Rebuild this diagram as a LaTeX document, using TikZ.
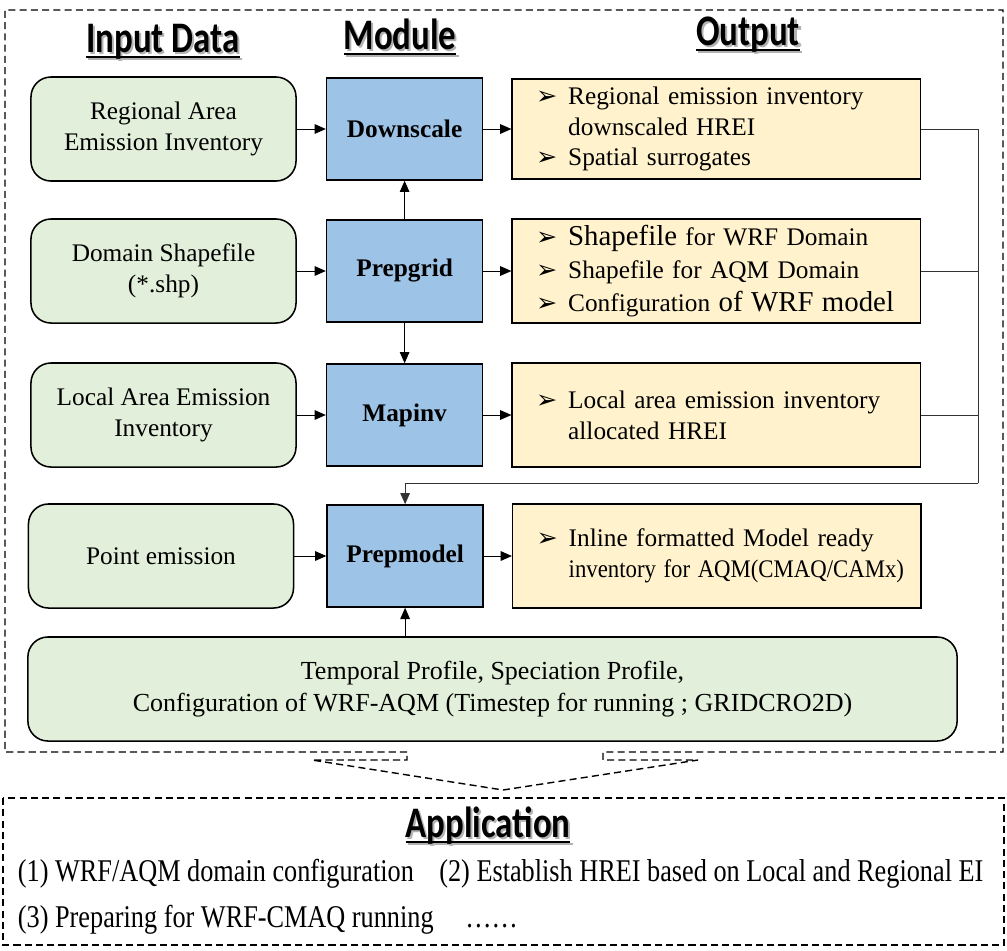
\documentclass[tikz,border=0pt]{standalone}
\usepackage{fontspec}
\usepackage{xcolor}
\usepackage{graphicx}
\usetikzlibrary{arrows.meta,positioning}
\setmainfont{Liberation Serif}
\newfontfamily\hdrfont[FakeStretch=0.8]{Carlito}
\newfontfamily\symfont{DejaVu Sans}
\newfontfamily\appfont[FakeStretch=0.83]{Liberation Serif}
\definecolor{ingreen}{RGB}{226,239,218}
\definecolor{modblue}{RGB}{157,195,230}
\definecolor{outyellow}{RGB}{255,242,204}
\newcommand{\hdul}[1]{\setbox0=\hbox{#1}\rlap{\rule[-4.5pt]{\wd0}{1.4pt}}\box0}
\newcommand{\hdr}[1]{\rlap{\hspace{1.5pt}\raisebox{-1.5pt}{\color{black!30}\hdul{#1}}}\hdul{#1}}
\newcommand{\itm}{\makebox[0.8cm][l]{\symfont\fontsize{18}{18}\selectfont ➢}}
\newcommand{\cnt}{\hspace*{0.8cm}}
\newcommand{\bigtxt}{\fontsize{20.5}{22}\selectfont}

\begin{document}
\begin{tikzpicture}[x=0.025cm,y=-0.025cm,
   font=\fontsize{18}{22}\selectfont,
   inbox/.style={draw,line width=1.1pt,rounded corners=0.5cm,fill=ingreen,
                 minimum width=6.625cm,minimum height=2.6cm,align=center},
   modbox/.style={draw,line width=1.1pt,fill=modblue,minimum width=3.9cm,
                  minimum height=2.55cm,font=\fontsize{18}{22}\selectfont\bfseries},
   outbox/.style={draw,line width=1.1pt,fill=outyellow,text width=9cm,inner xsep=0.6cm,
                  minimum height=2.6cm,align=left},
   hd/.style={anchor=base,font=\hdrfont\bfseries\fontsize{31}{33}\selectfont},
   flow/.style={-{Triangle[length=2.8mm,width=2.4mm]},line width=0.7pt},
   bus/.style={draw=black!80,line width=0.6pt},
   outline/.style={draw,line width=1pt,dash pattern=on 5pt off 3pt}]
  \useasboundingbox (0,0) rectangle (1007,950);

  % dashed frames
  \draw[outline] (407,752) -- (5,752) -- (5,10) -- (1003,10) -- (1003,752) -- (603,752)
     -- (603,760) -- (698,760) -- (503,790) -- (312,760) -- (407,760) -- cycle;
  \draw[outline] (3,798) rectangle (1004,945);

  % column headers
  \node[hd] (hin)  at (163,52) {\hdr{Input Data}};
  \node[hd] (hmod) at (400,49) {\hdr{Module}};
  \node[hd] (hout) at (748,45) {\hdr{Output}};

  % input data
  \node[inbox] (in1) at (163.5,129) {Regional Area\\Emission Inventory};
  \node[inbox] (in2) at (163.5,271) {Domain Shapefile\\(*.shp)};
  \node[inbox] (in3) at (163.5,415) {Local Area Emission\\Inventory};
  \node[inbox] (in4) at (161,556) {Point emission};
  \node[inbox,minimum width=23.225cm,font=\fontsize{18.5}{23}\selectfont] (prof) at (492.5,689)
     {Temporal Profile, Speciation Profile,\\Configuration of WRF-AQM (Timestep for running ; GRIDCRO2D)};

  % modules
  \node[modbox,right=0.725cm of in1] (mod1) {Downscale};
  \node[modbox,right=0.725cm of in2] (mod2) {Prepgrid};
  \node[modbox,right=0.725cm of in3] (mod3) {Mapinv};
  \node[modbox,right=0.8cm of in4] (mod4) {Prepmodel};

  % outputs
  \node[outbox,right=0.7cm of mod1,minimum height=2.5cm] (out1)
     {\itm Regional emission inventory\\\cnt downscaled HREI\\\itm Spatial surrogates};
  \node[outbox,right=0.7cm of mod2,font=\fontsize{18}{23.5}\selectfont] (out2)
     {\mbox{\itm {\bigtxt Shapefile} for WRF Domain}\\\mbox{\itm Shapefile for AQM Domain}\\
      \mbox{\itm Configuration {\bigtxt of WRF model}}};
  \node[outbox,right=0.7cm of mod3] (out3)
     {\itm Local area emission inventory\\\cnt allocated HREI};
  \node[outbox,right=0.7cm of mod4] (out4)
     {\mbox{\itm Inline formatted Model ready}\\
      \mbox{\cnt\scalebox{0.9}[1]{inventory for AQM(CMAQ/CAMx)}}};

  % arrows
  \draw[flow] (in1) -- (mod1);
  \draw[flow] (in2) -- (mod2);
  \draw[flow] (in3) -- (mod3);
  \draw[flow] (in4) -- (mod4);
  \draw[flow] (mod1) -- (out1);
  \draw[flow] (mod2) -- (out2);
  \draw[flow] (mod3) -- (out3);
  \draw[flow] (mod4) -- (out4);
  \draw[flow] (mod2) -- (mod1);
  \draw[flow] (mod2) -- (mod3);
  \draw[flow] (mod4.south |- prof.north) -- (mod4.south);

  % collector on the right
  \coordinate (busend) at (978,483);
  \draw[bus] (out1.east) -| (busend);
  \draw[bus] (out2.east) -- (out2.east -| busend);
  \draw[bus] (out3.east) -- (out3.east -| busend);
  \draw[flow,draw=black!80] (busend) -| (mod4.north);

  % application
  \node[hd] (happ) at (488,837) {\hdr{Application}};
  \node[anchor=base west,font=\appfont\fontsize{22.5}{24}\selectfont] (app1) at (13,881)
     {(1) WRF/AQM domain configuration\hspace{0.8em}(2) Establish HREI based on Local and Regional EI};
  \node[anchor=base west,font=\appfont\fontsize{22.5}{24}\selectfont] (app2) at (13,927)
     {(3) Preparing for WRF-CMAQ running\hspace{1em}……};
\end{tikzpicture}
\end{document}
